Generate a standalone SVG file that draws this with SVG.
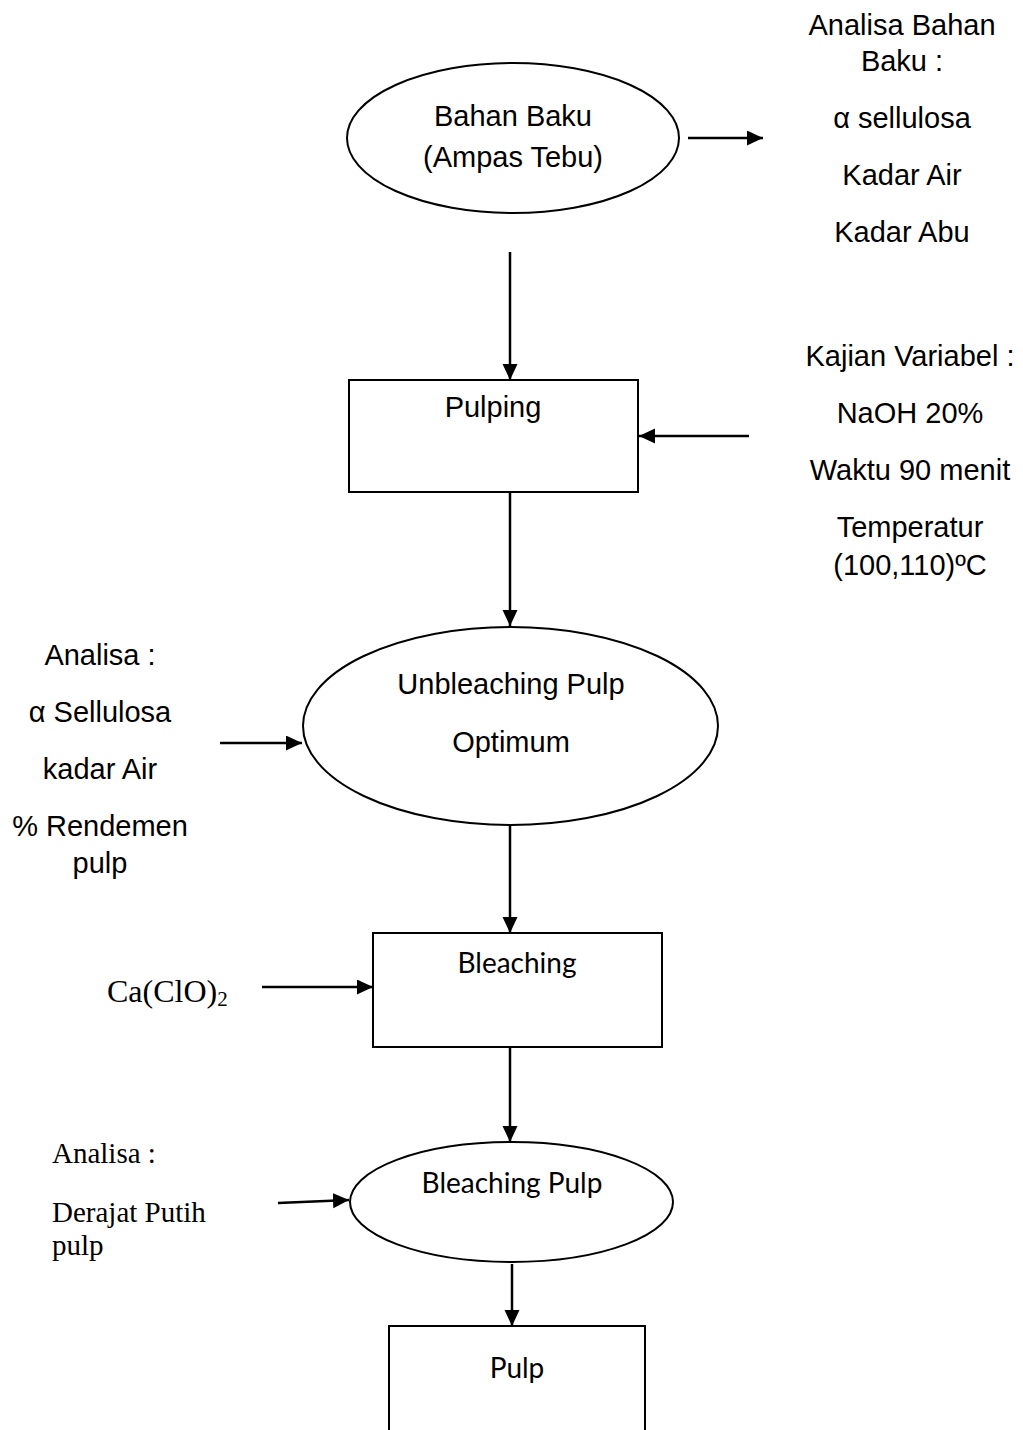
<svg xmlns="http://www.w3.org/2000/svg" width="1023" height="1430" viewBox="0 0 1023 1430">
<style>
.shape{fill:#fff;stroke:#000;stroke-width:2}
.conn{fill:none;stroke:#000;stroke-width:2.5}
.ar{font-family:"Liberation Sans",Arial,sans-serif;font-size:29px;fill:#000;text-anchor:middle}
.tm{font-family:"Liberation Serif","Times New Roman",serif;font-size:29px;fill:#000}
.cb{font-family:Lato,"Open Sans",sans-serif;font-size:28px;fill:#000;text-anchor:middle}
</style>
<defs>
<marker id="arr" markerUnits="userSpaceOnUse" markerWidth="18" markerHeight="16" refX="16" refY="7.5" orient="auto">
<path d="M0,0 L16,7.5 L0,15 z" fill="#000"/>
</marker>
</defs>
<rect width="1023" height="1430" fill="#fff"/>

<g id="connectors">
<line class="conn" x1="688" y1="138" x2="763" y2="138" marker-end="url(#arr)"/>
<line class="conn" x1="510" y1="252" x2="510" y2="380" marker-end="url(#arr)"/>
<line class="conn" x1="749" y1="436" x2="639" y2="436" marker-end="url(#arr)"/>
<line class="conn" x1="510" y1="492" x2="510" y2="626" marker-end="url(#arr)"/>
<line class="conn" x1="220" y1="743" x2="302" y2="743" marker-end="url(#arr)"/>
<line class="conn" x1="510" y1="822" x2="510" y2="933" marker-end="url(#arr)"/>
<line class="conn" x1="262" y1="987" x2="373" y2="987" marker-end="url(#arr)"/>
<line class="conn" x1="510" y1="1048" x2="510" y2="1142" marker-end="url(#arr)"/>
<line class="conn" x1="278" y1="1203" x2="349" y2="1200" marker-end="url(#arr)"/>
<line class="conn" x1="512" y1="1264" x2="512" y2="1326" marker-end="url(#arr)"/>
</g>

<g id="bahan-baku">
<ellipse class="shape" cx="513" cy="138" rx="166" ry="75"/>
<text class="ar" x="513" y="126">Bahan Baku</text>
<text class="ar" x="513" y="167">(Ampas Tebu)</text>
</g>

<g id="analisa-bahan-baku">
<text class="ar" x="902" y="35">Analisa Bahan</text>
<text class="ar" x="902" y="71">Baku :</text>
<text class="ar" x="902" y="128">α sellulosa</text>
<text class="ar" x="902" y="185">Kadar Air</text>
<text class="ar" x="902" y="242">Kadar Abu</text>
</g>

<g id="pulping">
<rect class="shape" x="349" y="380" width="289" height="112"/>
<text class="ar" x="493" y="417">Pulping</text>
</g>

<g id="kajian-variabel">
<text class="ar" x="910" y="366">Kajian Variabel :</text>
<text class="ar" x="910" y="423">NaOH 20%</text>
<text class="ar" x="910" y="480">Waktu 90 menit</text>
<text class="ar" x="910" y="537">Temperatur</text>
<text class="ar" x="910" y="575">(100,110)ºC</text>
</g>

<g id="unbleaching-pulp">
<ellipse class="shape" cx="510.5" cy="726" rx="207.5" ry="99"/>
<text class="ar" x="511" y="694">Unbleaching Pulp</text>
<text class="ar" x="511" y="752">Optimum</text>
</g>

<g id="analisa-unbleaching">
<text class="ar" x="100" y="665">Analisa :</text>
<text class="ar" x="100" y="722">α Sellulosa</text>
<text class="ar" x="100" y="779">kadar Air</text>
<text class="ar" x="100" y="836">% Rendemen</text>
<text class="ar" x="100" y="873">pulp</text>
</g>

<g id="bleaching">
<rect class="shape" x="373" y="933" width="289" height="114"/>
<text class="cb" x="517" y="973">Bleaching</text>
</g>

<g id="caclo2">
<text class="tm" x="107" y="1002" style="font-size:32px">Ca(ClO)<tspan style="font-size:21px" dy="4">2</tspan></text>
</g>

<g id="bleaching-pulp">
<ellipse class="shape" cx="511.5" cy="1202" rx="161.5" ry="60"/>
<text class="cb" x="512" y="1193">Bleaching Pulp</text>
</g>

<g id="analisa-derajat">
<text class="tm" x="52" y="1163">Analisa :</text>
<text class="tm" x="52" y="1222">Derajat Putih</text>
<text class="tm" x="52" y="1255">pulp</text>
</g>

<g id="pulp">
<rect class="shape" x="389" y="1326" width="256" height="130"/>
<text class="cb" x="517" y="1378">Pulp</text>
</g>
</svg>
